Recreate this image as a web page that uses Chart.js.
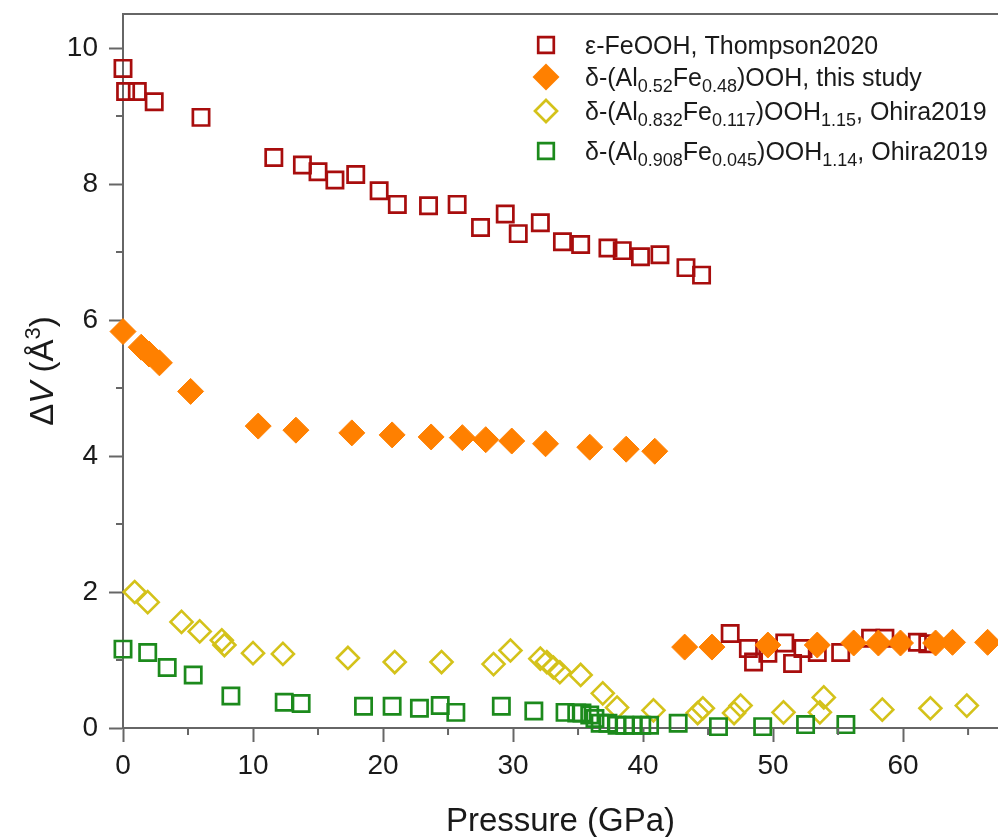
<!DOCTYPE html>
<html>
<head>
<meta charset="utf-8">
<title>Delta V vs pressure</title>
<script src="https://cdn.jsdelivr.net/npm/chart.js@4.4.1/dist/chart.umd.min.js"></script>
<style>
  html, body { margin: 0; padding: 0; background: #fff; }
  #wrap { width: 998px; height: 837px; }
</style>
</head>
<body>
<div id="wrap"><canvas id="dv" width="998" height="837"></canvas></div>
<script>
// epsilon-FeOOH, Thompson2020
const epsP = [0.0, 0.2, 1.1, 2.4, 6.0, 11.6, 13.8, 15.0, 16.3, 17.9, 19.7, 21.1, 23.5, 25.7, 27.5,
  29.4, 30.4, 32.1, 33.8, 35.2, 37.3, 38.4, 39.8, 41.3, 43.3, 44.5,
  46.7, 48.1, 48.5, 49.6, 50.9, 51.5, 52.3, 53.4, 55.2, 57.5, 58.6, 61.1, 61.9];
const epsV = [9.70, 9.36, 9.36, 9.21, 8.98, 8.39, 8.28, 8.18, 8.06, 8.14, 7.90, 7.70, 7.68, 7.70, 7.36,
  7.56, 7.27, 7.43, 7.15, 7.11, 7.06, 7.02, 6.93, 6.96, 6.77, 6.66,
  1.39, 1.17, 0.97, 1.10, 1.25, 0.95, 1.17, 1.11, 1.11, 1.32, 1.32, 1.26, 1.24];

// delta-(Al0.52Fe0.48)OOH, this study
const alFeP = [0.0, 1.4, 2.0, 2.8, 5.2, 10.4, 13.3, 17.6, 20.7, 23.7, 26.1, 27.9, 29.9, 32.5, 35.9, 38.7, 40.9,
  43.2, 45.3, 49.6, 53.4, 56.2, 58.1, 59.8, 62.5, 63.8, 66.5];
const alFeV = [5.83, 5.60, 5.50, 5.37, 4.95, 4.44, 4.38, 4.34, 4.31, 4.28, 4.27, 4.24, 4.22, 4.18, 4.13, 4.10, 4.07,
  1.19, 1.19, 1.22, 1.22, 1.25, 1.25, 1.25, 1.25, 1.26, 1.26];

// delta-(Al0.832Fe0.117)OOH1.15, Ohira2019
const ohiraAP = [0.9, 1.9, 4.5, 5.9, 7.6, 7.8, 10.0, 12.3, 17.3, 20.9, 24.5, 28.5, 29.8, 32.1, 32.6, 33.1, 33.6,
  35.2, 36.9, 38.0, 40.8, 44.2, 44.6, 47.0, 47.5, 50.8, 53.6, 53.9, 58.4, 62.1, 64.9];
const ohiraAV = [2.00, 1.85, 1.56, 1.42, 1.29, 1.22, 1.10, 1.09, 1.03, 0.97, 0.97, 0.94, 1.14, 1.02, 0.97, 0.89, 0.82,
  0.78, 0.51, 0.30, 0.26, 0.22, 0.29, 0.22, 0.33, 0.23, 0.23, 0.45, 0.27, 0.29, 0.33];

// delta-(Al0.908Fe0.045)OOH1.14, Ohira2019
const ohiraBP = [0.0, 1.9, 3.4, 5.4, 8.3, 12.4, 13.7, 18.5, 20.7, 22.8, 24.4, 25.6, 29.1, 31.6, 34.0, 34.9,
  35.3, 35.9, 36.3, 36.7, 37.3, 38.0, 38.6, 39.2, 39.9, 40.5, 42.7, 45.8, 49.2, 52.5, 55.6];
const ohiraBV = [1.16, 1.11, 0.89, 0.78, 0.47, 0.38, 0.36, 0.32, 0.32, 0.29, 0.33, 0.23, 0.32, 0.25, 0.23, 0.22,
  0.22, 0.19, 0.14, 0.07, 0.07, 0.04, 0.04, 0.04, 0.04, 0.04, 0.07, 0.02, 0.02, 0.05, 0.05];

// axis ranges and ticks
const xMin = 0, xMax = 67.3, xStep = 10, xMinorTicks = [5, 15, 25, 35, 45, 55, 65];
const yMin = 0, yMax = 10.5, yStep = 2, yMinorTicks = [1, 3, 5, 7, 9];

const FONT = '"Liberation Sans", Arial, Helvetica, sans-serif';
const AXIS = '#666666';
const TEXT = '#1a1a1a';
const RED = '#A80D0D';
const ORANGE = '#FF8000';
const YELLOW = '#D4C21A';
const GREEN = '#1C8A1C';

const zip = (xs, ys) => xs.map((x, i) => ({ x, y: ys[i] }));

// top frame line plus the short minor ticks on both axes
const framePlugin = {
  id: 'frame',
  afterDraw(chart) {
    const { ctx, chartArea: a, scales } = chart;
    ctx.save();
    ctx.strokeStyle = AXIS;
    ctx.lineWidth = 2;
    ctx.beginPath();
    ctx.moveTo(a.left - 1, a.top);
    ctx.lineTo(a.right, a.top);
    xMinorTicks.forEach(v => {
      const px = scales.x.getPixelForValue(v);
      ctx.moveTo(px, a.bottom);
      ctx.lineTo(px, a.bottom + 7);
    });
    yMinorTicks.forEach(v => {
      const py = scales.y.getPixelForValue(v);
      ctx.moveTo(a.left, py);
      ctx.lineTo(a.left - 7, py);
    });
    ctx.stroke();
    ctx.restore();
  }
};

// rotated y title with italic V and superscript 3
const yTitlePlugin = {
  id: 'yTitle',
  afterDraw(chart) {
    const { ctx, chartArea: a } = chart;
    const size = 33;
    const parts = [
      { t: '\u0394', f: `${size}px ${FONT}`, dy: 0 },
      { t: 'V', f: `italic ${size}px ${FONT}`, dy: 0 },
      { t: ' (\u00C5', f: `${size}px ${FONT}`, dy: 0 },
      { t: '3', f: `${Math.round(size * 0.68)}px ${FONT}`, dy: -13 },
      { t: ')', f: `${size}px ${FONT}`, dy: 0 }
    ];
    ctx.save();
    let total = 0;
    parts.forEach(p => { ctx.font = p.f; p.w = ctx.measureText(p.t).width; total += p.w; });
    ctx.translate(53, (a.top + a.bottom) / 2);
    ctx.rotate(-Math.PI / 2);
    ctx.fillStyle = TEXT;
    ctx.textBaseline = 'alphabetic';
    let x = -total / 2;
    parts.forEach(p => {
      ctx.font = p.f;
      ctx.fillText(p.t, x, p.dy);
      x += p.w;
    });
    ctx.restore();
  }
};

// legend entries with chemical subscripts
const legendRows = [
  { y: 45, color: RED, shape: 'square', parts: [['\u03B5-FeOOH, Thompson2020']] },
  { y: 77, color: ORANGE, shape: 'diamondFill', parts: [['\u03B4-(Al'], ['0.52', 1], ['Fe'], ['0.48', 1], [')OOH, this study']] },
  { y: 111, color: YELLOW, shape: 'diamond', parts: [['\u03B4-(Al'], ['0.832', 1], ['Fe'], ['0.117', 1], [')OOH'], ['1.15', 1], [', Ohira2019']] },
  { y: 151, color: GREEN, shape: 'square', parts: [['\u03B4-(Al'], ['0.908', 1], ['Fe'], ['0.045', 1], [')OOH'], ['1.14', 1], [', Ohira2019']] }
];

const legendPlugin = {
  id: 'richLegend',
  afterDraw(chart) {
    const ctx = chart.ctx;
    const markerX = 546, textX = 585, size = 25, subSize = 18;
    ctx.save();
    legendRows.forEach(row => {
      ctx.strokeStyle = row.color;
      ctx.fillStyle = row.color;
      ctx.lineWidth = 2.7;
      ctx.beginPath();
      if (row.shape === 'square') {
        ctx.rect(markerX - 7.8, row.y - 7.8, 15.6, 15.6);
        ctx.stroke();
      } else {
        const r = row.shape === 'diamondFill' ? 13.5 : 11;
        ctx.moveTo(markerX, row.y - r);
        ctx.lineTo(markerX + r, row.y);
        ctx.lineTo(markerX, row.y + r);
        ctx.lineTo(markerX - r, row.y);
        ctx.closePath();
        if (row.shape === 'diamondFill') ctx.fill(); else ctx.stroke();
      }
      ctx.fillStyle = TEXT;
      ctx.textBaseline = 'alphabetic';
      let x = textX;
      const base = row.y + 9;
      row.parts.forEach(([t, sub]) => {
        ctx.font = `${sub ? subSize : size}px ${FONT}`;
        ctx.fillText(t, x, sub ? base + 6 : base);
        x += ctx.measureText(t).width;
      });
    });
    ctx.restore();
  }
};

const tickFont = { family: FONT, size: 28 };

new Chart(document.getElementById('dv'), {
  type: 'scatter',
  data: {
    datasets: [
      {
        label: '\u03B4-(Al0.52Fe0.48)OOH, this study',
        data: zip(alFeP, alFeV),
        pointStyle: 'rectRot', pointRadius: 13, borderWidth: 1,
        backgroundColor: ORANGE, borderColor: ORANGE, clip: false, order: 1
      },
      {
        label: '\u03B4-(Al0.908Fe0.045)OOH1.14, Ohira2019',
        data: zip(ohiraBP, ohiraBV),
        pointStyle: 'rect', pointRadius: 11.5, borderWidth: 2.7,
        backgroundColor: 'rgba(0,0,0,0)', borderColor: GREEN, clip: false, order: 2
      },
      {
        label: '\u03B4-(Al0.832Fe0.117)OOH1.15, Ohira2019',
        data: zip(ohiraAP, ohiraAV),
        pointStyle: 'rectRot', pointRadius: 11, borderWidth: 2.6,
        backgroundColor: 'rgba(0,0,0,0)', borderColor: YELLOW, clip: false, order: 3
      },
      {
        label: '\u03B5-FeOOH, Thompson2020',
        data: zip(epsP, epsV),
        pointStyle: 'rect', pointRadius: 11.5, borderWidth: 2.7,
        backgroundColor: 'rgba(0,0,0,0)', borderColor: RED, clip: false, order: 4
      }
    ]
  },
  options: {
    responsive: false,
    devicePixelRatio: 1,
    animation: false,
    events: [],
    // markers may overhang the frame, so no automatic padding for them
    layout: { autoPadding: false, padding: { top: 14, right: 0, left: 0, bottom: 0 } },
    plugins: {
      legend: { display: false },
      tooltip: { enabled: false }
    },
    scales: {
      x: {
        type: 'linear',
        min: xMin,
        max: xMax,
        ticks: {
          stepSize: xStep,
          includeBounds: false,
          maxRotation: 0,
          padding: 7,
          color: TEXT,
          font: tickFont,
          callback: v => String(v)
        },
        grid: { drawOnChartArea: false, drawTicks: true, tickLength: 14, tickColor: AXIS, tickWidth: 2 },
        border: { display: true, color: AXIS, width: 2 },
        title: {
          display: true,
          text: 'Pressure (GPa)',
          color: TEXT,
          font: { family: FONT, size: 33, lineHeight: 0.92 },
          padding: { top: 0, bottom: 0 }
        },
        afterFit(scale) {
          scale.height = 109;
          scale.paddingLeft = 0;
          scale.paddingRight = 0;
        }
      },
      y: {
        type: 'linear',
        min: yMin,
        max: yMax,
        ticks: {
          stepSize: yStep,
          includeBounds: false,
          padding: 11,
          color: TEXT,
          font: tickFont,
          callback: v => String(v)
        },
        grid: { drawOnChartArea: false, drawTicks: true, tickLength: 14, tickColor: AXIS, tickWidth: 2 },
        border: { display: true, color: AXIS, width: 2 },
        afterFit(scale) {
          scale.width = 123;
          scale.paddingTop = 0;
          scale.paddingBottom = 0;
        }
      }
    }
  },
  plugins: [framePlugin, yTitlePlugin, legendPlugin]
});
</script>
</body>
</html>
